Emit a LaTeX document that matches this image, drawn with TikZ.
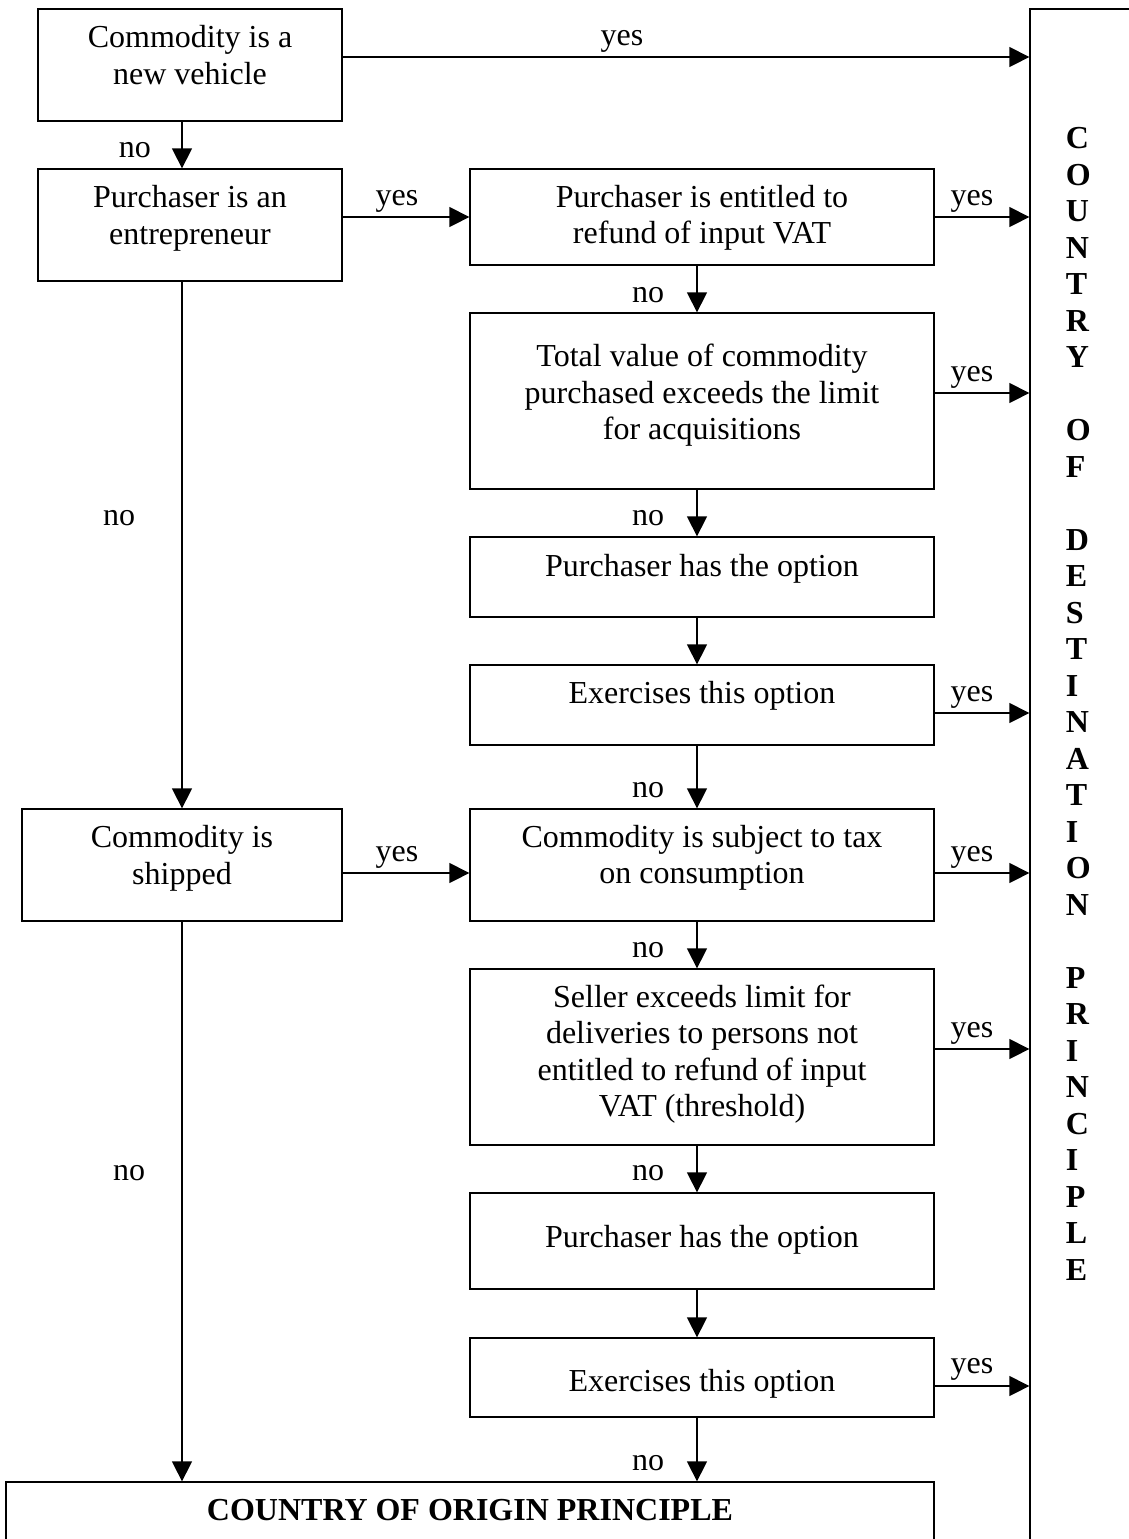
\documentclass[tikz,border=0pt]{standalone}
\usepackage{fontspec}
\setmainfont{Liberation Serif}
\usetikzlibrary{arrows.meta}
\newcommand\tstr[1]{\rule{0pt}{#1}}
\begin{document}
\begin{tikzpicture}[x=0.5pt,y=-0.5pt,
  font=\fontsize{16}{18.25}\selectfont,
  box/.style={draw, line width=0.65pt, inner sep=0pt, minimum width=232pt},
  txt/.style={anchor=north, align=center, inner sep=0pt},
  arr/.style={line width=0.65pt, -{Triangle[length=10pt,width=10pt]}},
  lab/.style={anchor=base, inner sep=0pt},
]
\path[use as bounding box, clip] (0,0) rectangle (1129,1539);

% left column
\node[box, minimum width=152pt, minimum height=56pt,
  label={[txt]north:{\tstr{19.5pt}Commodity is a\\new vehicle}}] (b1) at (190,65) {};
\node[box, minimum width=152pt, minimum height=56pt,
  label={[txt]north:{\tstr{19.5pt}Purchaser is an\\entrepreneur}}] (b2) at (190,225) {};
\node[box, minimum width=160pt, minimum height=56pt,
  label={[txt]north:{\tstr{19.5pt}Commodity is\\shipped}}] (ship) at (182,865) {};

% middle column
\node[box, minimum height=48pt,
  label={[txt]north:{\tstr{19.25pt}Purchaser is entitled to\\refund of input VAT}}] (b3) at (702,217) {};
\node[box, minimum height=88pt,
  label={[txt]north:{\tstr{27pt}Total value of commodity\\purchased exceeds the limit\\for acquisitions}}] (b4) at (702,401) {};
\node[box, minimum height=40pt,
  label={[txt]north:{\tstr{20pt}Purchaser has the option}}] (b5) at (702,577) {};
\node[box, minimum height=40pt,
  label={[txt]north:{\tstr{19.5pt}Exercises this option}}] (b6) at (702,705) {};
\node[box, minimum height=56pt,
  label={[txt]north:{\tstr{19.25pt}Commodity is subject to tax\\on consumption}}] (b7) at (702,865) {};
\node[box, minimum height=88pt,
  label={[txt]north:{\tstr{19.25pt}Seller exceeds limit for\\deliveries to persons not\\entitled to refund of input\\VAT (threshold)}}] (b8) at (702,1057) {};
\node[box, minimum height=48pt,
  label={[txt]north:{\tstr{27.5pt}Purchaser has the option}}] (b9) at (702,1241) {};
\node[box, minimum height=39.5pt,
  label={[txt]north:{\tstr{27pt}Exercises this option}}] (b10) at (702,1377.5) {};

% bottom box
\node[box, minimum width=464pt, minimum height=59pt,
  label={[txt]north:{\bfseries\tstr{19.5pt}COUNTRY OF ORIGIN PRINCIPLE}}] (bot) at (470,1541) {};

% right box
\node[box, minimum width=55pt, minimum height=795.5pt,
  label={[anchor=north west, align=left, inner sep=0pt, xshift=18pt, font=\fontsize{16}{18.25}\selectfont\bfseries]north west:{\tstr{70pt}C\\O\\U\\N\\T\\R\\Y\\[18.25pt]O\\F\\[18.25pt]D\\E\\S\\T\\I\\N\\A\\T\\I\\O\\N\\[18.25pt]P\\R\\I\\N\\C\\I\\P\\L\\E}}] (dest) at (1085,804.5) {};

% connectors
\draw[arr] ([yshift=4pt]b1.east) -- ([yshift=4pt]b1.east -| dest.west);
\draw[arr] ([xshift=-4pt]b1.south) -- ([xshift=-4pt]b2.north);
\draw[arr] (b3.west -| b2.east) -- (b3.west);
\draw[arr] (b2.south -| ship.north) -- (ship.north);
\draw[arr] (b3.east) -- (b3.east -| dest.west);
\draw[arr] ([xshift=-2.5pt]b3.south) -- ([xshift=-2.5pt]b4.north);
\draw[arr] ([yshift=4pt]b4.east) -- ([yshift=4pt]b4.east -| dest.west);
\draw[arr] ([xshift=-2.5pt]b4.south) -- ([xshift=-2.5pt]b5.north);
\draw[arr] ([xshift=-2.5pt]b5.south) -- ([xshift=-2.5pt]b6.north);
\draw[arr] ([yshift=-4pt]b6.east) -- ([yshift=-4pt]b6.east -| dest.west);
\draw[arr] ([xshift=-2.5pt]b6.south) -- ([xshift=-2.5pt]b7.north);
\draw[arr] ([yshift=-4pt]b7.west -| ship.east) -- ([yshift=-4pt]b7.west);
\draw[arr] ([yshift=-4pt]b7.east) -- ([yshift=-4pt]b7.east -| dest.west);
\draw[arr] ([xshift=-2.5pt]b7.south) -- ([xshift=-2.5pt]b8.north);
\draw[arr] ([yshift=4pt]b8.east) -- ([yshift=4pt]b8.east -| dest.west);
\draw[arr] ([xshift=-2.5pt]b8.south) -- ([xshift=-2.5pt]b9.north);
\draw[arr] ([xshift=-2.5pt]b9.south) -- ([xshift=-2.5pt]b10.north);
\draw[arr] ([yshift=-4.25pt]b10.east) -- ([yshift=-4.25pt]b10.east -| dest.west);
\draw[arr] ([xshift=-2.5pt]b10.south) -- ([xshift=-2.5pt]b10.south |- bot.north);
\draw[arr] (ship.south) -- (ship.south |- bot.north);

% yes / no labels
\node[lab] (y1) at (622,45) {yes};
\node[lab] (y2) at (397,205) {yes};
\node[lab] (y3) at (972,205) {yes};
\node[lab] (y4) at (972,381) {yes};
\node[lab] (y5) at (972,701) {yes};
\node[lab] (y6) at (397,861) {yes};
\node[lab] (y7) at (972,861) {yes};
\node[lab] (y8) at (972,1037) {yes};
\node[lab] (y9) at (972,1373) {yes};
\node[lab] (n1) at (135,157) {no};
\node[lab] (n2) at (648,302) {no};
\node[lab] (n3) at (648,525) {no};
\node[lab] (n4) at (648,797) {no};
\node[lab] (n5) at (648,957) {no};
\node[lab] (n6) at (648,1180) {no};
\node[lab] (n7) at (648,1470) {no};
\node[lab] (n8) at (119,525) {no};
\node[lab] (n9) at (129,1180) {no};
\end{tikzpicture}
\end{document}
